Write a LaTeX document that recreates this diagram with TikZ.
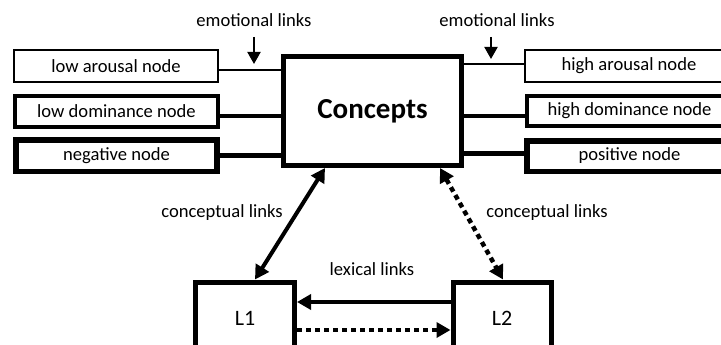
\documentclass[tikz,border=0pt]{standalone}
\usepackage{fontspec}
\setmainfont{Carlito}
\usetikzlibrary{arrows.meta}
\begin{document}
\begin{tikzpicture}[x=1pt,y=-1pt,
  lbl/.style={font=\fontsize{18.6}{22}\selectfont, inner sep=0pt},
  vbox/.style={draw, inner sep=0pt, font=\fontsize{18.6}{22}\selectfont, fill=white},
  tip/.style={-{Triangle[length=14pt,width=15pt]}},
  dtip/.style={{Triangle[length=14pt,width=15pt]}-{Triangle[length=14pt,width=15pt]}},
  dotline/.style={line width=4.5pt, dash pattern=on 5pt off 4pt}
]
\useasboundingbox (0,0) rectangle (721,345);
\clip (0,0) rectangle (721,345);
\fill[white] (0,0) rectangle (721,345);

% central node
\node[draw, line width=5pt, minimum width=178pt, minimum height=109pt, inner sep=0pt,
      font=\fontsize{29}{34}\selectfont\bfseries] (concepts) at (372.5,111) {Concepts};

% left nodes
\node[vbox, line width=2pt, minimum width=204pt, minimum height=32pt] (lar) at (116,66) {low arousal node};
\node[vbox, line width=4pt, minimum width=203pt, minimum height=31pt] (ldom) at (116.5,111.5) {low dominance node};
\node[vbox, line width=5.5pt, minimum width=201pt, minimum height=31.5pt] (neg) at (116.5,155.5) {negative node};

% right nodes
\node[vbox, line width=2pt, minimum width=208pt, minimum height=32pt] (har) at (629,66) {high arousal node};
\node[vbox, line width=4pt, minimum width=206pt, minimum height=30pt] (hdom) at (629.5,111) {high dominance node};
\node[vbox, line width=5.5pt, minimum width=205pt, minimum height=30.5pt] (pos) at (629.5,156) {positive node};

% emotional connections
\draw[line width=1.5pt] (lar.east |- 0,70) -- (concepts.west |- 0,70);
\draw[line width=3.5pt] (ldom.east |- 0,116) -- (concepts.west |- 0,116);
\draw[line width=5pt] (neg.east |- 0,155) -- (concepts.west |- 0,155);
\draw[line width=2pt] (concepts.east |- 0,64) -- (har.west |- 0,64);
\draw[line width=3.5pt] (concepts.east |- 0,116) -- (hdom.west |- 0,116);
\draw[line width=5pt] (concepts.east |- 0,153) -- (pos.west |- 0,153);

% emotional link labels
\node[lbl] (el1) at (254,20) {emotional links};
\node[lbl] (el2) at (497,20) {emotional links};
\coordinate (e1) at (254,64);
\coordinate (e2) at (491,59);
\draw[line width=2pt, -{Triangle[length=12pt,width=13pt]}] (254,37) -- (e1);
\draw[line width=2pt, -{Triangle[length=12pt,width=13pt]}] (491,37) -- (e2);

% language nodes
\node[draw, line width=5pt, minimum width=99pt, minimum height=72pt, inner sep=0pt,
      font=\fontsize{22}{26}\selectfont] (L1) at (245,318) {L1};
\node[draw, line width=5pt, minimum width=98pt, minimum height=72pt, inner sep=0pt,
      font=\fontsize{22}{26}\selectfont] (L2) at (502,318) {L2};

% conceptual links
\draw[line width=4pt, dtip] ([xshift=-47.5pt]concepts.south) -- ([xshift=10pt]L1.north);
\draw[dotline, dtip] ([xshift=67.5pt]concepts.south) -- ([xshift=1pt]L2.north);
\node[lbl] (cl1) at (222,213) {conceptual links};
\node[lbl] (cl2) at (547,213) {conceptual links};

% lexical links
\draw[line width=4.5pt, tip] (L2.west |- 0,302) -- (L1.east |- 0,302);
\draw[dotline, tip] (L1.east |- 0,330) -- (L2.west |- 0,330);
\node[lbl] (ll) at (372,269) {lexical links};
\end{tikzpicture}
\end{document}
